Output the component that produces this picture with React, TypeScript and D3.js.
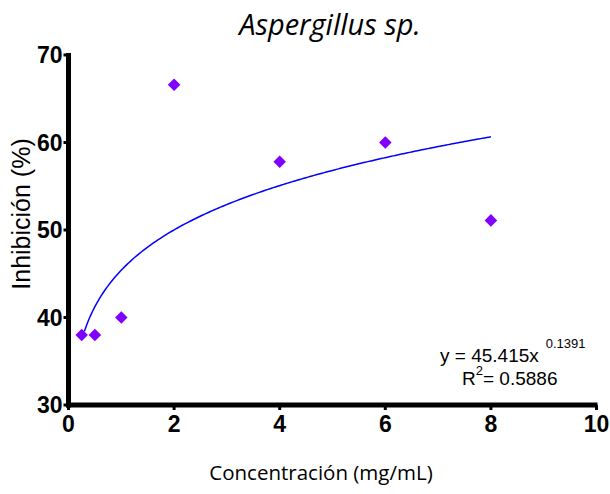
import React from "react";
import * as d3 from "d3";

// Concentration (mg/mL) and measured inhibition (%)
const concentrations = [0.25, 0.5, 1, 2, 4, 6, 8];
const inhibition = [38, 38, 40, 66.6, 57.8, 60, 51.1];

// Power-law fit y = a * x^b
const fitA = 45.415;
const fitB = 0.1391;
const fitR2 = 0.5886;
const fitRange = [0.3, 8];

const xTicks = [0, 2, 4, 6, 8, 10];
const yTicks = [30, 40, 50, 60, 70];

const W = 610;
const H = 494;

export default function App() {
  const x = d3.scaleLinear().domain([0, 10]).range([68.5, 596.5]);
  const y = d3.scaleLinear().domain([30, 70]).range([405, 55]);

  const fitPts = d3.range(0, 201).map((i) => {
    const xv = fitRange[0] + ((fitRange[1] - fitRange[0]) * i) / 200;
    return [xv, fitA * Math.pow(xv, fitB)] as [number, number];
  });
  const line = d3
    .line<[number, number]>()
    .x((d) => x(d[0]))
    .y((d) => y(d[1]));

  const diamond = d3.symbol().type(d3.symbolDiamond2).size(100)();

  const axisW = 5;
  const tickFont = "'Liberation Sans', Arial, sans-serif";

  return (
    <svg
      width={W}
      height={H}
      style={{ position: "absolute", left: 0, top: 0, background: "#fff" }}
    >
      {/* Title */}
      <text
        x={330}
        y={35}
        textAnchor="middle"
        fontFamily="'Open Sans', sans-serif"
        fontStyle="italic"
        fontSize={29}
        fill="#000"
      >
        Aspergillus sp.
      </text>

      {/* Y axis */}
      <line
        x1={x(0)}
        x2={x(0)}
        y1={y(70) - 2}
        y2={y(30) + axisW / 2}
        stroke="#000"
        strokeWidth={axisW}
      />
      {yTicks.map((t) => (
        <g key={"yt" + t}>
          <line
            x1={x(0) - 5}
            x2={x(0)}
            y1={y(t)}
            y2={y(t)}
            stroke="#000"
            strokeWidth={3}
          />
          <text
            x={x(0) - 6}
            y={y(t)}
            dy="0.36em"
            textAnchor="end"
            fontFamily={tickFont}
            fontWeight="bold"
            fontSize={23}
            fill="#000"
          >
            {t}
          </text>
        </g>
      ))}

      {/* X axis */}
      <line
        x1={x(0) - axisW / 2}
        x2={x(10) + 1}
        y1={y(30)}
        y2={y(30)}
        stroke="#000"
        strokeWidth={axisW}
      />
      {xTicks.map((t) => (
        <g key={"xt" + t}>
          <line
            x1={x(t)}
            x2={x(t)}
            y1={y(30)}
            y2={y(30) + 5}
            stroke="#000"
            strokeWidth={3}
          />
          <text
            x={x(t)}
            y={432}
            textAnchor="middle"
            fontFamily={tickFont}
            fontWeight="bold"
            fontSize={23}
            fill="#000"
          >
            {t}
          </text>
        </g>
      ))}

      {/* Axis titles */}
      <text
        x={321}
        y={480}
        textAnchor="middle"
        fontFamily="'Open Sans', sans-serif"
        fontSize={20.5}
        fill="#000"
      >
        Concentración (mg/mL)
      </text>
      <text
        transform={`translate(30, 214) rotate(-90)`}
        textAnchor="middle"
        fontFamily={tickFont}
        fontSize={25}
        fill="#000"
      >
        Inhibición (%)
      </text>

      {/* Fitted curve */}
      <path d={line(fitPts) || ""} fill="none" stroke="#0000ff" strokeWidth={1.5} />

      {/* Data points */}
      {concentrations.map((c, i) => (
        <path
          key={"p" + i}
          d={diamond || ""}
          transform={`translate(${x(c)}, ${y(inhibition[i])})`}
          fill="#7f00ff"
        />
      ))}

      {/* Fit equation */}
      <text fontFamily={tickFont} fontSize={19} fill="#000">
        <tspan x={440} y={362}>
          {`y = ${fitA.toFixed(3)}x`}
        </tspan>
        <tspan fontSize={13} dx={7} dy={-14}>
          {fitB.toString()}
        </tspan>
      </text>
      <text fontFamily={tickFont} fontSize={19} fill="#000">
        <tspan x={462} y={385}>
          R
        </tspan>
        <tspan fontSize={13} dy={-10}>
          2
        </tspan>
        <tspan dy={10}>{`= ${fitR2.toFixed(4)}`}</tspan>
      </text>
    </svg>
  );
}
